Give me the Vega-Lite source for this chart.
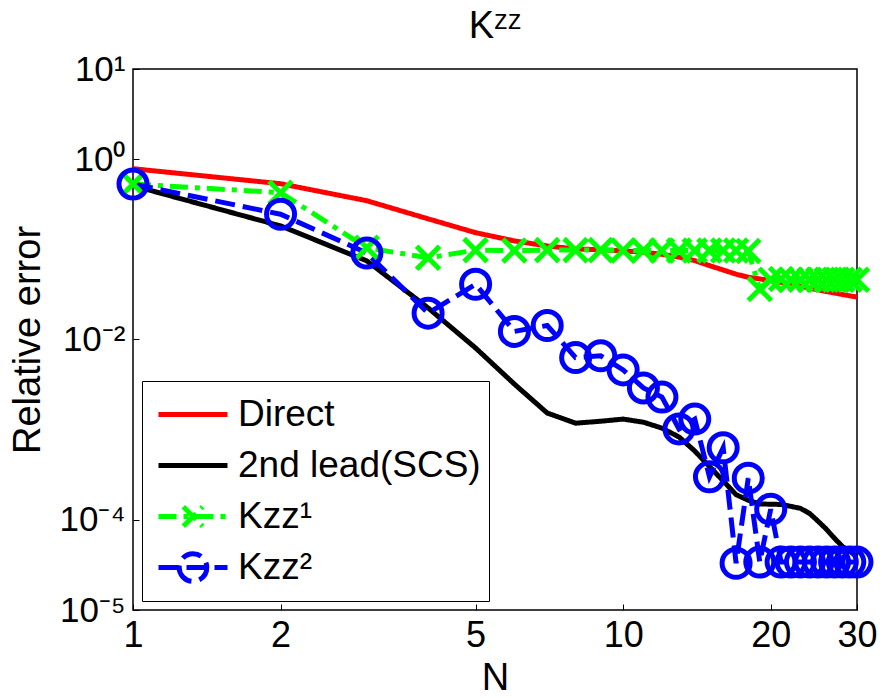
{
  "$schema": "https://vega.github.io/schema/vega-lite/v6.json",
  "width": 724,
  "height": 541,
  "autosize": {"type": "none"},
  "padding": {"left": 133, "top": 69, "right": 25, "bottom": 88},
  "config": {
    "font": "Liberation Sans",
    "view": {"stroke": "black", "strokeWidth": 1.5},
    "axis": {"grid": false, "domain": false, "labelColor": "black", "titleColor": "black", "tickColor": "black", "labelFont": "Liberation Sans", "titleFont": "Liberation Sans", "titleFontWeight": "normal"}
  },
  "title": {"text": "Kᶻᶻ", "fontSize": 38, "fontWeight": "normal", "font": "Liberation Sans", "color": "black", "offset": 6},
  "data": {"values": [
    {"N": 1, "series": "Direct", "err": 0.784},
    {"N": 2, "series": "Direct", "err": 0.534},
    {"N": 3, "series": "Direct", "err": 0.346},
    {"N": 4, "series": "Direct", "err": 0.218},
    {"N": 5, "series": "Direct", "err": 0.153},
    {"N": 6, "series": "Direct", "err": 0.124},
    {"N": 7, "series": "Direct", "err": 0.109},
    {"N": 8, "series": "Direct", "err": 0.101},
    {"N": 9, "series": "Direct", "err": 0.099},
    {"N": 10, "series": "Direct", "err": 0.096},
    {"N": 11, "series": "Direct", "err": 0.093},
    {"N": 12, "series": "Direct", "err": 0.088},
    {"N": 13, "series": "Direct", "err": 0.082},
    {"N": 14, "series": "Direct", "err": 0.075},
    {"N": 15, "series": "Direct", "err": 0.066},
    {"N": 16, "series": "Direct", "err": 0.059},
    {"N": 17, "series": "Direct", "err": 0.053},
    {"N": 18, "series": "Direct", "err": 0.049},
    {"N": 19, "series": "Direct", "err": 0.047},
    {"N": 20, "series": "Direct", "err": 0.045},
    {"N": 21, "series": "Direct", "err": 0.043},
    {"N": 22, "series": "Direct", "err": 0.041},
    {"N": 23, "series": "Direct", "err": 0.039},
    {"N": 24, "series": "Direct", "err": 0.037},
    {"N": 25, "series": "Direct", "err": 0.0355},
    {"N": 26, "series": "Direct", "err": 0.034},
    {"N": 27, "series": "Direct", "err": 0.0328},
    {"N": 28, "series": "Direct", "err": 0.0316},
    {"N": 29, "series": "Direct", "err": 0.0305},
    {"N": 30, "series": "Direct", "err": 0.0296},
    {"N": 1, "series": "2nd lead(SCS)", "err": 0.508},
    {"N": 2, "series": "2nd lead(SCS)", "err": 0.182},
    {"N": 3, "series": "2nd lead(SCS)", "err": 0.0745},
    {"N": 4, "series": "2nd lead(SCS)", "err": 0.0224},
    {"N": 5, "series": "2nd lead(SCS)", "err": 0.00805},
    {"N": 6, "series": "2nd lead(SCS)", "err": 0.0032},
    {"N": 7, "series": "2nd lead(SCS)", "err": 0.00153},
    {"N": 8, "series": "2nd lead(SCS)", "err": 0.00118},
    {"N": 9, "series": "2nd lead(SCS)", "err": 0.00124},
    {"N": 10, "series": "2nd lead(SCS)", "err": 0.00131},
    {"N": 11, "series": "2nd lead(SCS)", "err": 0.00121},
    {"N": 12, "series": "2nd lead(SCS)", "err": 0.00104},
    {"N": 13, "series": "2nd lead(SCS)", "err": 0.00083},
    {"N": 14, "series": "2nd lead(SCS)", "err": 0.00058},
    {"N": 15, "series": "2nd lead(SCS)", "err": 0.00039},
    {"N": 16, "series": "2nd lead(SCS)", "err": 0.00027},
    {"N": 17, "series": "2nd lead(SCS)", "err": 0.00019},
    {"N": 18, "series": "2nd lead(SCS)", "err": 0.000165},
    {"N": 19, "series": "2nd lead(SCS)", "err": 0.00015},
    {"N": 20, "series": "2nd lead(SCS)", "err": 0.000149},
    {"N": 21, "series": "2nd lead(SCS)", "err": 0.000148},
    {"N": 22, "series": "2nd lead(SCS)", "err": 0.000141},
    {"N": 23, "series": "2nd lead(SCS)", "err": 0.000134},
    {"N": 24, "series": "2nd lead(SCS)", "err": 0.000118},
    {"N": 25, "series": "2nd lead(SCS)", "err": 0.0000963},
    {"N": 26, "series": "2nd lead(SCS)", "err": 0.0000784},
    {"N": 27, "series": "2nd lead(SCS)", "err": 0.0000623},
    {"N": 28, "series": "2nd lead(SCS)", "err": 0.0000508},
    {"N": 29, "series": "2nd lead(SCS)", "err": 0.0000447},
    {"N": 30, "series": "2nd lead(SCS)", "err": 0.0000393},
    {"N": 1, "series": "Kzz¹", "err": 0.53},
    {"N": 2, "series": "Kzz¹", "err": 0.425},
    {"N": 3, "series": "Kzz¹", "err": 0.104},
    {"N": 4, "series": "Kzz¹", "err": 0.0805},
    {"N": 5, "series": "Kzz¹", "err": 0.098},
    {"N": 6, "series": "Kzz¹", "err": 0.097},
    {"N": 7, "series": "Kzz¹", "err": 0.098},
    {"N": 8, "series": "Kzz¹", "err": 0.098},
    {"N": 9, "series": "Kzz¹", "err": 0.098},
    {"N": 10, "series": "Kzz¹", "err": 0.097},
    {"N": 11, "series": "Kzz¹", "err": 0.097},
    {"N": 12, "series": "Kzz¹", "err": 0.097},
    {"N": 13, "series": "Kzz¹", "err": 0.097},
    {"N": 14, "series": "Kzz¹", "err": 0.097},
    {"N": 15, "series": "Kzz¹", "err": 0.097},
    {"N": 16, "series": "Kzz¹", "err": 0.097},
    {"N": 17, "series": "Kzz¹", "err": 0.097},
    {"N": 18, "series": "Kzz¹", "err": 0.096},
    {"N": 19, "series": "Kzz¹", "err": 0.0363},
    {"N": 20, "series": "Kzz¹", "err": 0.046},
    {"N": 21, "series": "Kzz¹", "err": 0.047},
    {"N": 22, "series": "Kzz¹", "err": 0.046},
    {"N": 23, "series": "Kzz¹", "err": 0.046},
    {"N": 24, "series": "Kzz¹", "err": 0.046},
    {"N": 25, "series": "Kzz¹", "err": 0.046},
    {"N": 26, "series": "Kzz¹", "err": 0.046},
    {"N": 27, "series": "Kzz¹", "err": 0.046},
    {"N": 28, "series": "Kzz¹", "err": 0.046},
    {"N": 29, "series": "Kzz¹", "err": 0.046},
    {"N": 30, "series": "Kzz¹", "err": 0.046},
    {"N": 1, "series": "Kzz²", "err": 0.53},
    {"N": 2, "series": "Kzz²", "err": 0.245},
    {"N": 3, "series": "Kzz²", "err": 0.091},
    {"N": 4, "series": "Kzz²", "err": 0.0196},
    {"N": 5, "series": "Kzz²", "err": 0.041},
    {"N": 6, "series": "Kzz²", "err": 0.0123},
    {"N": 7, "series": "Kzz²", "err": 0.0143},
    {"N": 8, "series": "Kzz²", "err": 0.0063},
    {"N": 9, "series": "Kzz²", "err": 0.0066},
    {"N": 10, "series": "Kzz²", "err": 0.0046},
    {"N": 11, "series": "Kzz²", "err": 0.0029},
    {"N": 12, "series": "Kzz²", "err": 0.0023},
    {"N": 13, "series": "Kzz²", "err": 0.00102},
    {"N": 14, "series": "Kzz²", "err": 0.00131},
    {"N": 15, "series": "Kzz²", "err": 0.0003},
    {"N": 16, "series": "Kzz²", "err": 0.00063},
    {"N": 17, "series": "Kzz²", "err": 0.000033},
    {"N": 18, "series": "Kzz²", "err": 0.00029},
    {"N": 19, "series": "Kzz²", "err": 0.000034},
    {"N": 20, "series": "Kzz²", "err": 0.000131},
    {"N": 21, "series": "Kzz²", "err": 0.000034},
    {"N": 22, "series": "Kzz²", "err": 0.000034},
    {"N": 23, "series": "Kzz²", "err": 0.000034},
    {"N": 24, "series": "Kzz²", "err": 0.000034},
    {"N": 25, "series": "Kzz²", "err": 0.000034},
    {"N": 26, "series": "Kzz²", "err": 0.000034},
    {"N": 27, "series": "Kzz²", "err": 0.000034},
    {"N": 28, "series": "Kzz²", "err": 0.000034},
    {"N": 29, "series": "Kzz²", "err": 0.000034},
    {"N": 30, "series": "Kzz²", "err": 0.000034}
  ]},
  "encoding": {
    "x": {"field": "N", "type": "quantitative",
      "scale": {"type": "log", "domain": [1, 30], "nice": false},
      "axis": {"values": [1, 2, 5, 10, 20, 30], "format": "d", "title": "N", "labelFontSize": 36, "titleFontSize": 38, "tickSize": -6, "labelPadding": 14, "titlePadding": 6, "labelFlush": false}},
    "y": {"field": "err", "type": "quantitative",
      "scale": {"type": "log", "domain": [0.00001, 10], "nice": false},
      "axis": {"values": [0.00001, 0.0001, 0.01, 1, 10], "labelExpr": "datum.value > 5 ? '10¹' : datum.value > 0.5 ? '10⁰' : datum.value > 0.005 ? '10⁻²' : datum.value > 0.00005 ? '10⁻⁴' : '10⁻⁵'", "title": "Relative error", "labelFontSize": 35, "titleFontSize": 38, "tickSize": -6, "labelPadding": 14, "titlePadding": 12, "labelFlush": false}}
  },
  "layer": [
    {
      "mark": {"type": "line", "strokeWidth": 5, "clip": false},
      "encoding": {
        "color": {"field": "series", "type": "nominal",
          "scale": {"domain": ["Direct", "2nd lead(SCS)", "Kzz¹", "Kzz²"], "range": ["#ff0000", "#000000", "#00ff00", "#0000ff"]},
          "legend": {"title": null, "orient": "bottom-left", "offset": 9, "labelFontSize": 37, "labelFont": "Liberation Sans", "labelColor": "black", "labelLimit": 400,
            "symbolSize": 4761, "symbolStrokeWidth": 5, "labelOffset": 8, "rowPadding": 0, "clipHeight": 51, "padding": 8, "symbolOffset": 6,
            "strokeColor": "black", "fillColor": "white", "cornerRadius": 0,
            "encode": {"symbols": {"update": {"shape": {"signal": "datum.value === 'Kzz¹' ? 'M-1,0L1,0M-0.28,-0.28L0.28,0.28M-0.28,0.28L0.28,-0.28' : datum.value === 'Kzz²' ? 'M-1,0L1,0M-0.4,0A0.4,0.4,0,1,0,0.4,0A0.4,0.4,0,1,0,-0.4,0' : 'M-1,0L1,0'"}, "fill": {"value": "transparent"}}}}}},
        "strokeDash": {"field": "series", "type": "nominal",
          "scale": {"domain": ["Direct", "2nd lead(SCS)", "Kzz¹", "Kzz²"], "range": [[1, 0], [1, 0], [18, 7, 5, 7], [20, 8]]},
          "legend": {"title": null}}
      }
    },
    {
      "transform": [{"filter": "datum.series === 'Kzz¹'"}],
      "mark": {"type": "point", "shape": "M-1,-1L1,1M-1,1L1,-1", "size": 529, "filled": false, "stroke": "#00ff00", "strokeWidth": 5, "opacity": 1}
    },
    {
      "transform": [{"filter": "datum.series === 'Kzz²'"}],
      "mark": {"type": "point", "shape": "circle", "size": 784, "filled": false, "stroke": "#0000ff", "strokeWidth": 5, "opacity": 1}
    }
  ]
}
